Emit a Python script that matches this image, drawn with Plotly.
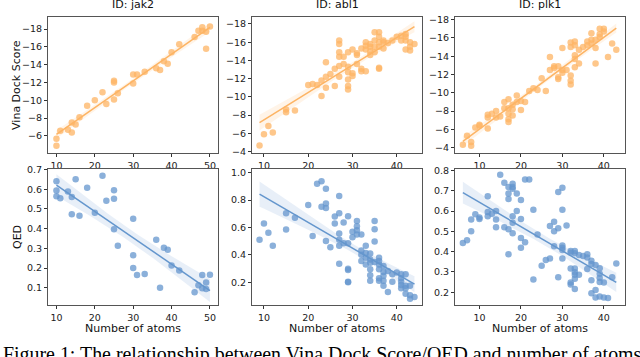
import numpy as np
import plotly.graph_objects as go

# number of atoms / docking score / QED per target
targets = ["jak2", "abl1", "plk1"]

jak2_atoms_vina = [10, 10, 11, 13, 14, 14, 15, 16, 18, 20, 22, 23, 25, 25, 25, 26, 30, 30, 31, 33,
                   36, 37, 38, 39, 40, 42, 46, 47, 48, 48, 49, 49, 50]
jak2_vina = [-5.7, -4.9, -6.6, -6.7, -7.5, -6.4, -7.3, -8.1, -9.4, -10.0, -10.9, -9.6, -12.2, -12.0,
             -10.1, -10.8, -12.9, -11.9, -12.9, -13.2, -13.6, -13.4, -14.4, -14.1, -15.4, -16.3,
             -17.1, -17.8, -17.8, -18.2, -17.7, -15.8, -18.3]
jak2_atoms_qed = [10, 10, 10, 11, 13, 14, 14, 15, 16, 18, 20, 22, 23, 25, 25, 25, 26, 30, 30, 30,
                  31, 33, 36, 37, 38, 39, 40, 42, 46, 47, 48, 48, 49, 49, 50]
jak2_qed = [0.641, 0.593, 0.564, 0.554, 0.589, 0.561, 0.473, 0.651, 0.466, 0.608, 0.480, 0.668,
            0.542, 0.595, 0.552, 0.397, 0.313, 0.450, 0.265, 0.200, 0.164, 0.169, 0.344, 0.100,
            0.303, 0.293, 0.213, 0.187, 0.077, 0.113, 0.164, 0.097, 0.126, 0.094, 0.166]

abl1_atoms_vina = [9, 10, 11, 12, 15, 15, 17, 20, 21, 22, 23, 23, 24, 24, 24, 25, 26, 26,
                   27, 27, 27, 27, 27, 27, 28, 28, 29, 29, 29, 29, 29, 29, 30, 30, 30, 31, 31, 31,
                   32, 32, 32, 33, 33, 33, 33, 34, 34, 34, 34, 35, 35, 35, 35,
                   36, 36, 36, 36, 36, 36, 37, 37, 37, 38, 39, 40, 41, 41, 42, 42, 42, 42,
                   43, 43, 43, 44]
abl1_vina = [-4.65, -5.9, -6.8, -6.1, -8.6, -8.3, -8.5, -11.3, -11.4, -11.3, -10.1, -11.8,
             -13.8, -12.2, -11.0, -12.5, -13.1, -11.2,
             -16.2, -15.8, -14.9, -14.4, -13.4, -12.2, -14.4, -13.6,
             -14.9, -13.3, -12.7, -11.9, -11.2, -10.8, -15.2, -12.6, -12.3, -14.8, -14.6, -13.6,
             -15.3, -13.1, -12.8, -16.0, -15.6, -15.2, -12.8, -15.8, -15.5, -15.0, -14.6,
             -17.1, -16.2, -15.5, -14.9, -17.1, -16.6, -16.0, -15.5, -13.2, -13.1,
             -16.2, -15.3, -16.0, -15.9, -16.2, -16.6, -16.7, -16.2, -16.9, -16.6, -16.2, -15.2,
             -15.5, -16.0, -15.1, -15.8]
abl1_atoms_qed = [9, 10, 11, 12, 15, 15, 17, 20, 21, 22, 23, 23, 24, 24, 24, 24, 25, 26, 26,
                  27, 27, 27, 27, 27, 27, 28, 28, 29, 29, 29, 29, 29, 29, 30, 30, 31, 31, 31, 31,
                  32, 32, 32, 32, 33, 33, 33, 33, 34, 34, 34, 34, 34, 34, 35, 35, 35, 35,
                  36, 36, 36, 36, 36, 36, 37, 37, 37, 37, 37, 38, 38, 39, 39, 40,
                  41, 41, 41, 41, 41, 42, 42, 42, 42, 43, 43, 43, 44]
abl1_qed = [0.51, 0.629, 0.562, 0.467, 0.705, 0.586, 0.671, 0.764, 0.538, 0.919, 0.938, 0.752,
            0.883, 0.776, 0.743, 0.502, 0.457, 0.681, 0.629,
            0.831, 0.705, 0.557, 0.510, 0.467, 0.336, 0.636, 0.486,
            0.683, 0.486, 0.300, 0.290, 0.205, 0.200, 0.569, 0.529, 0.648, 0.610, 0.581, 0.550,
            0.550, 0.433, 0.402, 0.355, 0.467, 0.414, 0.379, 0.331,
            0.410, 0.367, 0.343, 0.295, 0.252, 0.212, 0.648, 0.588, 0.498, 0.348,
            0.379, 0.355, 0.331, 0.295, 0.229, 0.212, 0.319, 0.276, 0.248, 0.212, 0.176,
            0.283, 0.129, 0.260, 0.205, 0.271,
            0.260, 0.229, 0.205, 0.181, 0.157, 0.260, 0.176, 0.157, 0.117, 0.176, 0.105, 0.081, 0.093]

plk1_atoms_vina = [6, 7, 8, 8, 9, 10, 10, 12, 12, 12, 13, 14, 14, 15, 16, 16, 17, 17, 17, 17, 17,
                   18, 18, 18, 19, 19, 20, 20, 21, 22, 23, 24, 25, 26, 27, 27, 28, 28, 29, 29, 29,
                   30, 30, 30, 31, 32, 32, 32, 32, 32, 33, 33, 33, 33, 33, 34, 34, 35, 36, 36,
                   37, 37, 37, 38, 38, 38, 39, 39, 39, 40, 40, 41, 42, 43]
plk1_vina = [-4.3, -5.3, -4.6, -4.2, -6.2, -6.5, -6.4, -7.6, -7.3, -6.1, -7.7, -8.0, -7.3, -7.4,
             -9.0, -8.3, -9.3, -8.3, -7.7, -7.1, -6.8, -8.7, -8.2, -7.5, -9.7, -9.0, -9.1, -8.1,
             -9.0, -10.2, -10.5, -10.3, -11.6, -10.2, -13.9, -12.5, -12.9, -12.7, -12.9, -11.7,
             -11.5, -14.9, -12.5, -12.2, -12.5, -15.5, -15.0, -11.9, -11.3, -10.9, -15.6, -15.2,
             -14.1, -13.7, -12.8, -14.7, -13.2, -15.0, -15.6, -15.2, -16.5, -15.8, -15.4, -15.8,
             -14.9, -13.2, -17.0, -16.4, -16.1, -17.0, -16.7, -13.9, -15.4, -14.7]
plk1_atoms_qed = [6, 7, 8, 8, 9, 10, 10, 12, 12, 12, 13, 14, 14, 14, 15, 16, 16, 17, 17, 17, 17, 17,
                  18, 18, 18, 18, 18, 18, 19, 19, 20, 20, 20, 20, 21, 21, 22, 23, 23, 24, 25, 26,
                  27, 27, 28, 28, 28, 29, 29, 29, 30, 30, 30, 30, 30, 30, 31, 32, 32, 32, 32, 32,
                  33, 33, 33, 33, 33, 33, 33, 34, 34, 35, 36, 36, 36, 37, 37, 37, 37, 38, 38, 38,
                  39, 39, 39, 39, 39, 40, 40, 41, 42, 43]
plk1_qed = [0.443, 0.456, 0.558, 0.5, 0.584, 0.568, 0.56, 0.673, 0.595, 0.574, 0.587, 0.6, 0.558,
            0.52, 0.779, 0.739, 0.52, 0.718, 0.686, 0.659, 0.51, 0.387, 0.734, 0.718, 0.710,
            0.574, 0.542, 0.49, 0.686, 0.6, 0.654, 0.56, 0.467, 0.419, 0.755, 0.446, 0.755,
            0.606, 0.263, 0.484, 0.330, 0.359, 0.366, 0.526, 0.547, 0.5, 0.427, 0.694, 0.515,
            0.274, 0.715, 0.606, 0.430, 0.419, 0.408, 0.366, 0.529, 0.403, 0.395, 0.317, 0.248,
            0.238, 0.403, 0.392, 0.317, 0.298, 0.286, 0.266, 0.216, 0.383, 0.286, 0.379, 0.387,
            0.371, 0.314, 0.355, 0.339, 0.259, 0.195, 0.334, 0.211, 0.174, 0.318, 0.291, 0.270,
            0.251, 0.179, 0.248, 0.174, 0.171, 0.274, 0.342]

caption = "Figure 1: The relationship between Vina Dock Score/QED and number of atoms"

W, H = 640, 357
ORANGE = (253, 180, 100)
BLUE = (100, 150, 205)
FONT = "DejaVu Sans"
cols_px = [(48, 218), (252, 422), (455, 625)]
rows_px = [(12, 152), (168, 308)]


def rgba(c, a):
    return f"rgba({c[0]},{c[1]},{c[2]},{a})"


def fit_band(x, y):
    x = np.asarray(x, float)
    y = np.asarray(y, float)
    b, a = np.polyfit(x, y, 1)
    xs = np.linspace(x.min(), x.max(), 100)
    yhat = a + b * xs
    n = len(x)
    s = np.sqrt(((y - (a + b * x)) ** 2).sum() / (n - 2))
    se = s * np.sqrt(1 / n + (xs - x.mean()) ** 2 / ((x - x.mean()) ** 2).sum())
    return xs, yhat, yhat - 1.96 * se, yhat + 1.96 * se


# (x, y, colour, x range, y range, y dtick, y tickformat)
panels = [
    (jak2_atoms_vina, jak2_vina, ORANGE, [7.8, 52.1], [-4.07, -19.39], 2, "d"),
    (abl1_atoms_vina, abl1_vina, ORANGE, [7.3, 45.7], [-3.82, -18.8], 2, "d"),
    (plk1_atoms_vina, plk1_vina, ORANGE, [4.1, 45.1], [-3.39, -18.32], 2, "d"),
    (jak2_atoms_qed, jak2_qed, BLUE, [7.8, 52.1], [0.011, 0.704], 0.1, ".1f"),
    (abl1_atoms_qed, abl1_qed, BLUE, [7.3, 45.7], [0.033, 1.029], 0.2, ".1f"),
    (plk1_atoms_qed, plk1_qed, BLUE, [4.1, 45.1], [0.136, 0.808], 0.1, ".1f"),
]

fig = go.Figure()
layout = {}
for i, (x, y, c, xr, yr, dy, fmt) in enumerate(panels):
    k = "" if i == 0 else str(i + 1)
    row, col = divmod(i, 3)
    xs, yhat, lo, hi = fit_band(x, y)
    fig.add_trace(go.Scatter(x=x, y=y, mode="markers", xaxis="x" + k, yaxis="y" + k,
                             marker=dict(size=6.5, color=rgba(c, 0.75), line=dict(width=0)),
                             showlegend=False))
    fig.add_trace(go.Scatter(x=np.concatenate([xs, xs[::-1]]), y=np.concatenate([hi, lo[::-1]]),
                             mode="lines", fill="toself", fillcolor=rgba(c, 0.15),
                             line=dict(width=0), xaxis="x" + k, yaxis="y" + k, showlegend=False))
    fig.add_trace(go.Scatter(x=xs, y=yhat, mode="lines", line=dict(color=rgba(c, 1), width=1.5),
                             xaxis="x" + k, yaxis="y" + k, showlegend=False))
    x0, x1 = cols_px[col]
    y0, y1 = rows_px[row]
    common = dict(showline=True, mirror=True, linecolor="#555", linewidth=1.2,
                  ticks="outside", ticklen=3, tickwidth=0.8, tickcolor="#333",
                  tickfont=dict(family=FONT, size=9.5, color="#222"),
                  showgrid=False, zeroline=False)
    layout["xaxis" + k] = dict(domain=[x0 / W, x1 / W], range=xr, anchor="y" + k,
                               dtick=10, tick0=0, **common)
    layout["yaxis" + k] = dict(domain=[1 - y1 / H, 1 - y0 / H], range=yr, anchor="x" + k,
                               dtick=dy, tick0=0, tickformat=fmt, **common)

annotations = []
for col, t in enumerate(targets):
    x0, x1 = cols_px[col]
    annotations.append(dict(text="ID: " + t, x=(x0 + x1) / 2 / W, y=1 - 8 / H, xref="paper",
                            yref="paper", xanchor="center", yanchor="bottom", showarrow=False,
                            font=dict(family=FONT, size=11, color="#111")))
    annotations.append(dict(text="Number of atoms", x=(x0 + x1) / 2 / W, y=1 - 332 / H,
                            xref="paper", yref="paper", xanchor="center", yanchor="middle",
                            showarrow=False, font=dict(family=FONT, size=11, color="#111")))
for row, t in enumerate(["Vina Dock Score", "QED"]):
    y0, y1 = rows_px[row]
    annotations.append(dict(text=t, x=17 / W, y=1 - (y0 + y1) / 2 / H, xref="paper",
                            yref="paper", xanchor="center", yanchor="middle", textangle=-90,
                            showarrow=False, font=dict(family=FONT, size=11, color="#111")))
annotations.append(dict(text=caption, x=1 / W, y=1 - 345 / H, xref="paper", yref="paper",
                        xanchor="left", yanchor="top", showarrow=False,
                        font=dict(family="Liberation Serif", size=19.9, color="#000")))

fig.update_layout(width=W, height=H, margin=dict(l=0, r=0, t=0, b=0),
                  paper_bgcolor="white", plot_bgcolor="white",
                  annotations=annotations, **layout)
# the page body has a default 8px margin; drop it so the figure sits at the window corner
fig.write_html("out.html", config={"displayModeBar": False},
               post_script="document.body.style.margin='0';")
